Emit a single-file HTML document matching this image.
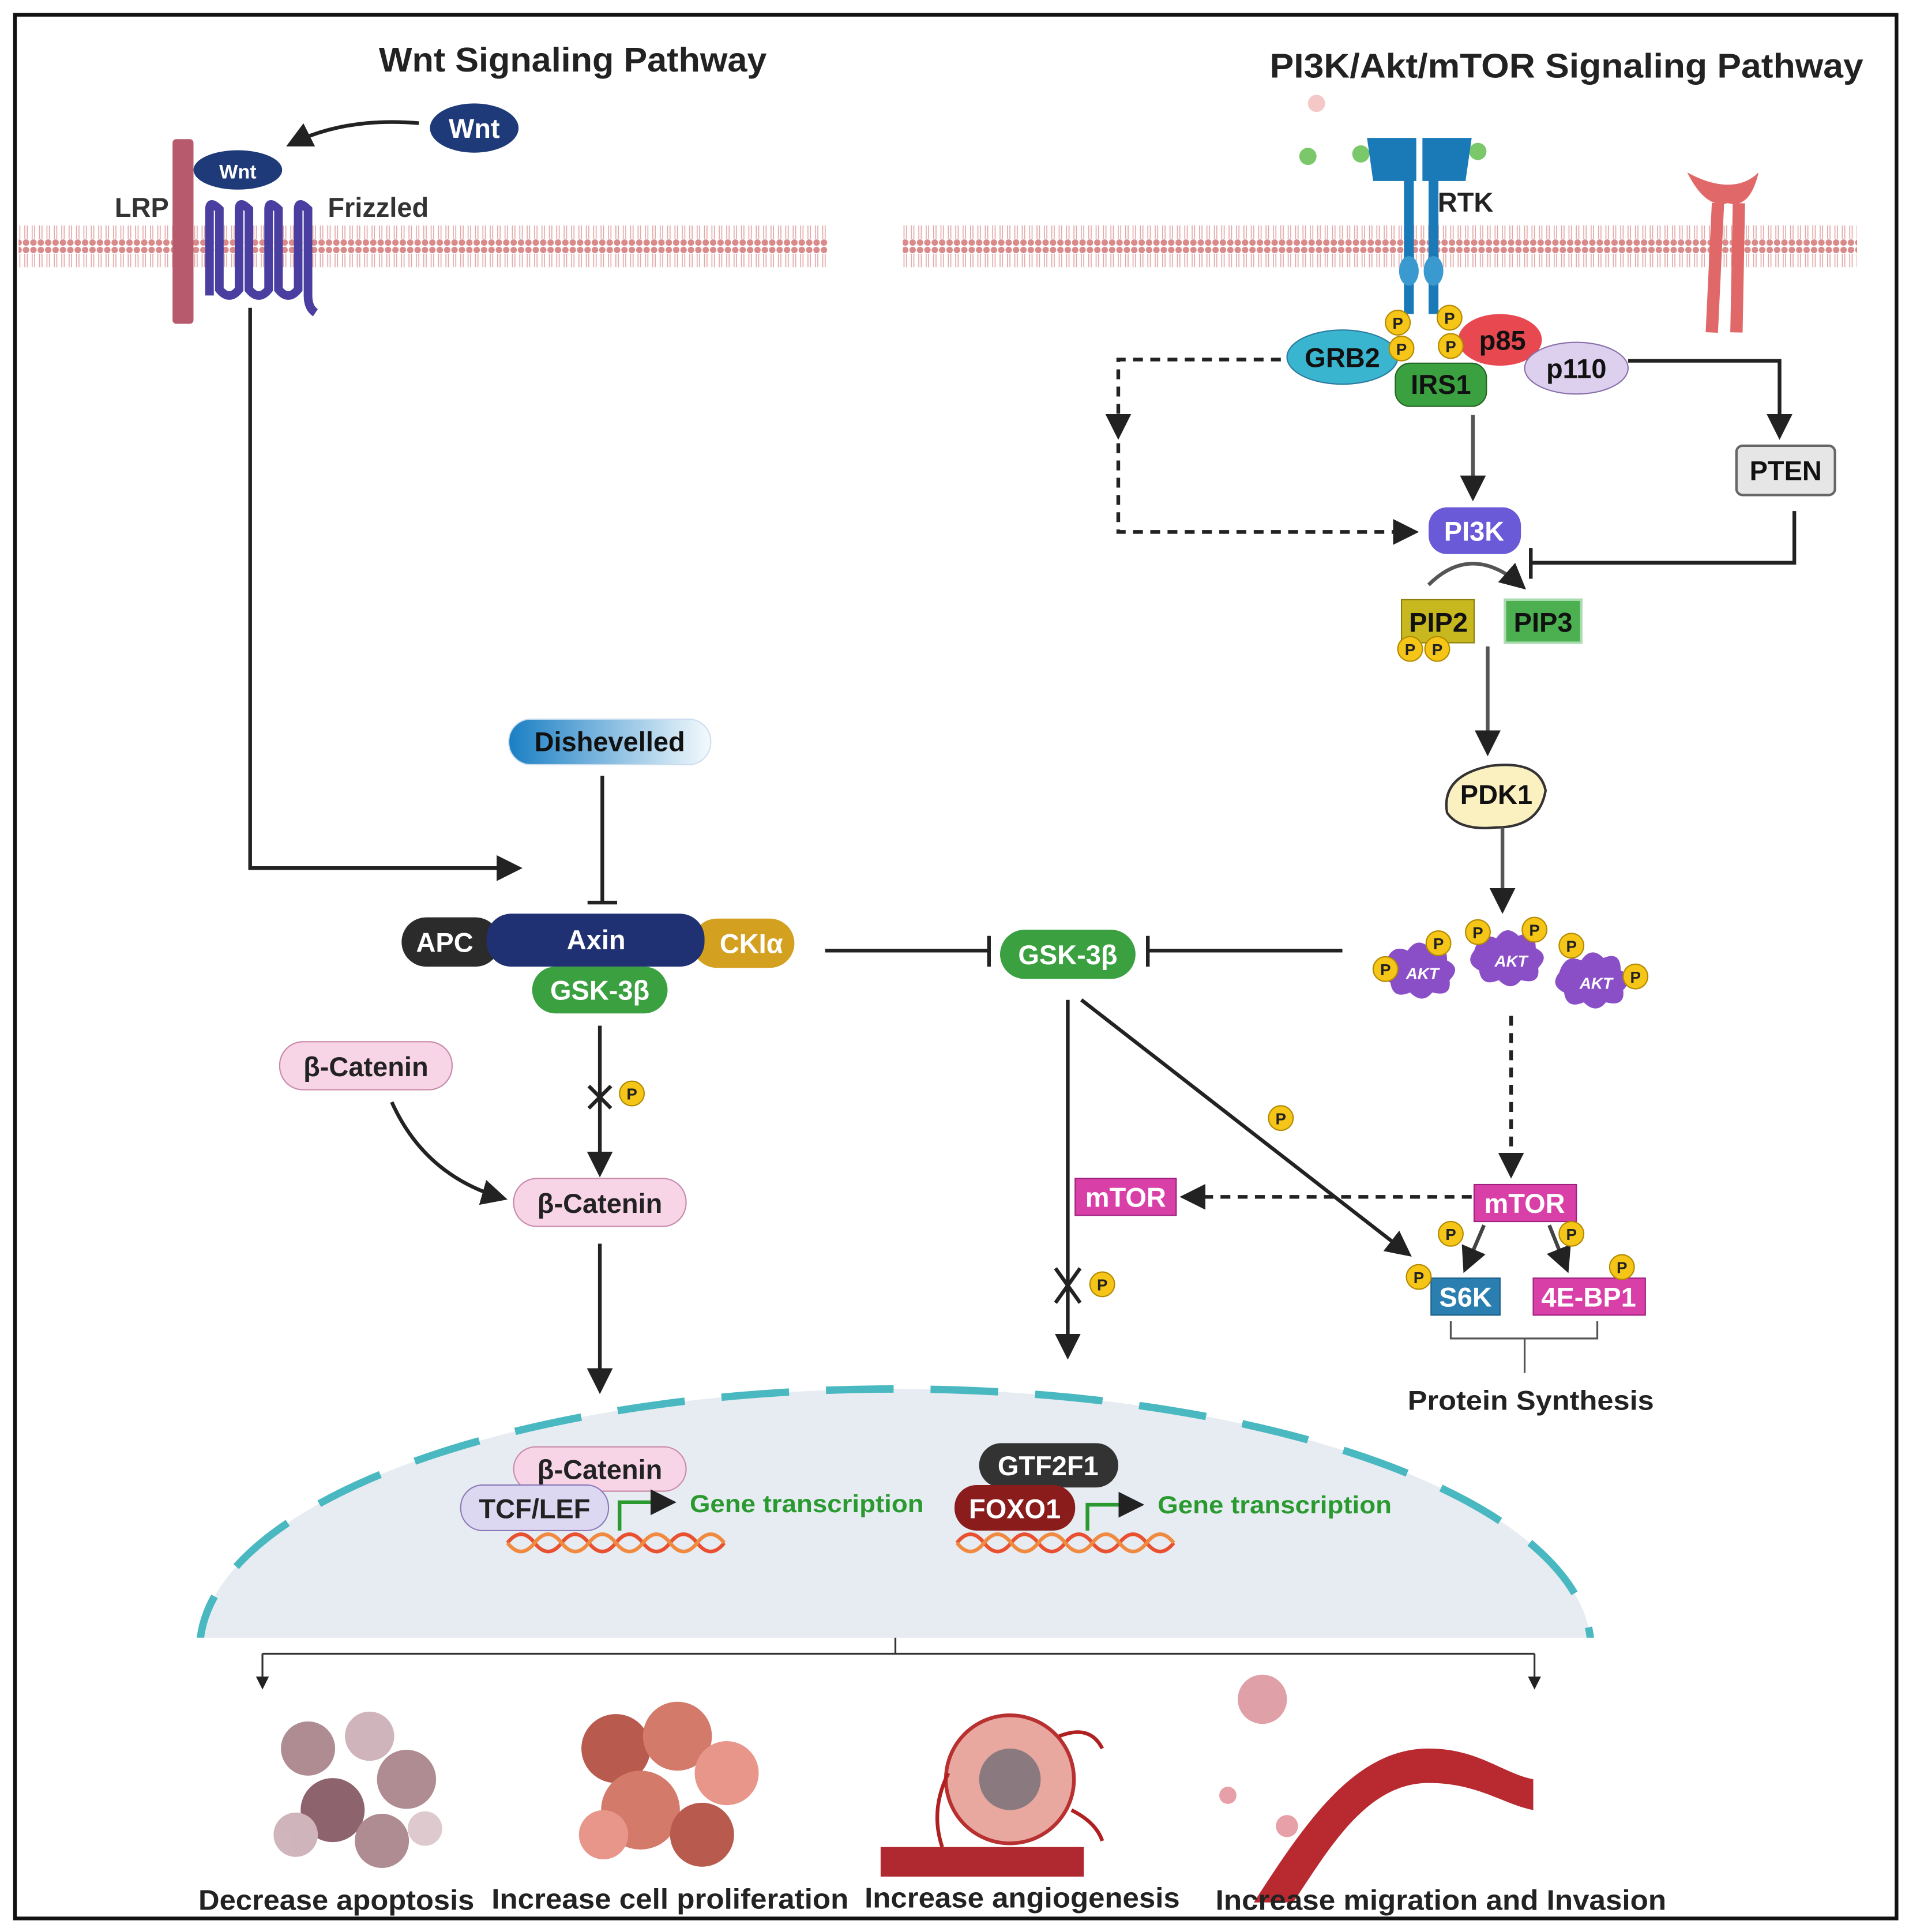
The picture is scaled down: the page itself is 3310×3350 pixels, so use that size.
<!DOCTYPE html>
<html><head><meta charset="utf-8"><style>
html,body{margin:0;padding:0;background:#fff}
svg{display:block}
text{font-family:"Liberation Sans",sans-serif;font-weight:bold}
</style></head><body>
<svg width="3310" height="3350" viewBox="0 0 1550 1569" xmlns="http://www.w3.org/2000/svg">
<defs>
<pattern id="mem" x="0" y="0" width="6" height="40" patternUnits="userSpaceOnUse">
<circle cx="3" cy="3" r="2.6" fill="#d98a8a"/><circle cx="3" cy="37" r="2.6" fill="#d98a8a"/>
<line x1="2" y1="6" x2="2" y2="17" stroke="#e3a9a9" stroke-width="0.8"/><line x1="4" y1="6" x2="4" y2="17" stroke="#e3a9a9" stroke-width="0.8"/>
<line x1="2" y1="23" x2="2" y2="34" stroke="#e3a9a9" stroke-width="0.8"/><line x1="4" y1="23" x2="4" y2="34" stroke="#e3a9a9" stroke-width="0.8"/>
</pattern>
<marker id="ar" viewBox="0 0 10 10" refX="8" refY="5" markerWidth="7" markerHeight="7" orient="auto-start-reverse"><path d="M0,0L10,5L0,10z" fill="#222"/></marker>
<linearGradient id="dsh" x1="0" x2="1"><stop offset="0" stop-color="#1a7fc4"/><stop offset="1" stop-color="#f4fafd"/></linearGradient>
<g id="P"><circle r="10" fill="#f5c518" stroke="#b48a00" stroke-width="1"/><text y="5" text-anchor="middle" font-size="13" fill="#222">P</text></g>
<g id="akt"><path d="M-30,-8 q5,-16 18,-10 q8,-12 18,-2 q14,-6 14,10 q12,6 2,16 q2,14 -14,10 q-8,10 -18,0 q-14,6 -16,-8 q-12,-6 -4,-16z" fill="#8a4fc7"/><text y="5" text-anchor="middle" font-size="13" fill="#fff" font-style="italic">AKT</text></g>
<g id="dna"><path d="M0,0 q11,-14 22,0 t22,0 t22,0 t22,0 t22,0 t22,0 t22,0 t22,0" fill="none" stroke="#e85030" stroke-width="3"/><path d="M0,0 q11,14 22,0 t22,0 t22,0 t22,0 t22,0 t22,0 t22,0 t22,0" fill="none" stroke="#f08a40" stroke-width="3"/></g>
</defs>
<rect x="0" y="0" width="1550" height="1569" fill="#fff"/>
<rect x="12" y="12" width="1528" height="1546" fill="none" stroke="#111" stroke-width="3"/>

<text x="465" y="58" text-anchor="middle" font-size="28" fill="#222" textLength="315" lengthAdjust="spacingAndGlyphs">Wnt Signaling Pathway</text>
<text x="1272" y="63" text-anchor="middle" font-size="28" fill="#222" textLength="482" lengthAdjust="spacingAndGlyphs">PI3K/Akt/mTOR Signaling Pathway</text>

<rect x="15" y="183" width="657" height="40" fill="url(#mem)"/>
<rect x="733" y="180" width="775" height="40" fill="url(#mem)"/>

<rect x="140" y="113" width="17" height="150" rx="3" fill="#b85a6e"/>
<path d="M170,240 V170 q0,-8 8,0 V235 q8,10 16,0 V170 q0,-8 8,0 V235 q8,10 16,0 V170 q0,-8 8,0 V235 q8,10 16,0 V170 q0,-8 8,0 V240 q0,10 6,14" fill="none" stroke="#4a3fa0" stroke-width="7"/>
<ellipse cx="193" cy="138" rx="36" ry="16" fill="#1f3a78"/><text x="193" y="145" text-anchor="middle" font-size="16" fill="#fff">Wnt</text>
<ellipse cx="385" cy="104" rx="36" ry="20" fill="#1f3a78"/><text x="385" y="112" text-anchor="middle" font-size="22" fill="#fff">Wnt</text>
<path d="M340,100 Q280,95 236,117" fill="none" stroke="#222" stroke-width="3" marker-end="url(#ar)"/>
<text x="115" y="176" text-anchor="middle" font-size="22" fill="#333">LRP</text>
<text x="307" y="176" text-anchor="middle" font-size="22" fill="#333">Frizzled</text>
<path d="M203,250 V705 H420" fill="none" stroke="#222" stroke-width="3" marker-end="url(#ar)"/>

<rect x="413" y="584" width="164" height="37" rx="18" fill="url(#dsh)" stroke="#cde" stroke-width="1"/>
<text x="495" y="610" text-anchor="middle" font-size="22" fill="#111">Dishevelled</text>
<path d="M489,630 V733 M477,733 H501" stroke="#222" stroke-width="3"/>
<rect x="326" y="745" width="80" height="40" rx="20" fill="#2b2b2b"/><text x="361" y="773" text-anchor="middle" font-size="22" fill="#fff">APC</text>
<rect x="562" y="746" width="83" height="40" rx="20" fill="#d4a020"/><text x="610" y="774" text-anchor="middle" font-size="22" fill="#fff">CKIα</text>
<rect x="395" y="742" width="177" height="43" rx="20" fill="#1f3172"/><text x="484" y="771" text-anchor="middle" font-size="22" fill="#fff">Axin</text>
<rect x="432" y="785" width="110" height="38" rx="19" fill="#3aa040"/><text x="487" y="812" text-anchor="middle" font-size="22" fill="#fff">GSK-3β</text>
<rect x="227" y="846" width="140" height="39" rx="19" fill="#f7d4e6" stroke="#c98aab"/><text x="297" y="874" text-anchor="middle" font-size="22" fill="#222">β-Catenin</text>
<rect x="417" y="957" width="140" height="39" rx="19" fill="#f7d4e6" stroke="#c98aab"/><text x="487" y="985" text-anchor="middle" font-size="22" fill="#222">β-Catenin</text>
<path d="M487,833 V952" stroke="#222" stroke-width="3" marker-end="url(#ar)"/>
<path d="M478,882 l18,18 M496,882 l-18,18" stroke="#222" stroke-width="3"/>
<use href="#P" x="513" y="888"/>
<path d="M318,895 Q345,955 408,973" fill="none" stroke="#222" stroke-width="3" marker-end="url(#ar)"/>
<path d="M487,1010 V1128" stroke="#222" stroke-width="3" marker-end="url(#ar)"/>

<path d="M670,772 H803 M803,760 V785" stroke="#222" stroke-width="3"/>
<rect x="812" y="755" width="110" height="40" rx="20" fill="#3aa040"/><text x="867" y="783" text-anchor="middle" font-size="22" fill="#fff">GSK-3β</text>
<path d="M1090,772 H932 M932,760 V785" stroke="#222" stroke-width="3"/>
<path d="M867,812 V1100" stroke="#222" stroke-width="3" marker-end="url(#ar)"/>
<path d="M857,1030 l20,28 M877,1030 l-20,28" stroke="#222" stroke-width="3"/>
<use href="#P" x="895" y="1043"/>
<path d="M878,812 L1143,1018" stroke="#222" stroke-width="3" marker-end="url(#ar)"/>
<use href="#P" x="1040" y="908"/>

<use href="#akt" x="1155" y="790"/><use href="#akt" x="1227" y="780"/><use href="#akt" x="1296" y="798"/>
<use href="#P" x="1125" y="787"/><use href="#P" x="1168" y="766"/><use href="#P" x="1200" y="757"/><use href="#P" x="1246" y="755"/><use href="#P" x="1276" y="768"/><use href="#P" x="1328" y="793"/>
<path d="M1227,825 V953" stroke="#222" stroke-width="3" stroke-dasharray="8,6" marker-end="url(#ar)"/>
<rect x="1197" y="962" width="83" height="30" fill="#d840a8" stroke="#a02080"/><text x="1238" y="985" text-anchor="middle" font-size="22" fill="#fff">mTOR</text>
<rect x="873" y="957" width="82" height="30" fill="#d840a8" stroke="#a02080"/><text x="914" y="980" text-anchor="middle" font-size="22" fill="#fff">mTOR</text>
<path d="M1195,972 H962" stroke="#222" stroke-width="3" stroke-dasharray="8,6" marker-end="url(#ar)"/>
<path d="M1205,995 L1190,1030" stroke="#444" stroke-width="3" marker-end="url(#ar)"/>
<path d="M1258,995 L1272,1030" stroke="#444" stroke-width="3" marker-end="url(#ar)"/>
<use href="#P" x="1178" y="1002"/><use href="#P" x="1276" y="1002"/>
<rect x="1162" y="1038" width="56" height="30" fill="#2a7fb0" stroke="#1a5f88"/><text x="1190" y="1061" text-anchor="middle" font-size="22" fill="#fff">S6K</text>
<rect x="1245" y="1038" width="91" height="30" fill="#d840a8" stroke="#a02080"/><text x="1290" y="1061" text-anchor="middle" font-size="22" fill="#fff">4E-BP1</text>
<use href="#P" x="1152" y="1037"/><use href="#P" x="1317" y="1029"/>
<path d="M1178,1073 V1087 H1297 V1073 M1238,1087 V1115" fill="none" stroke="#555" stroke-width="1.5"/>
<text x="1243" y="1145" text-anchor="middle" font-size="22" fill="#222" textLength="200" lengthAdjust="spacingAndGlyphs">Protein Synthesis</text>

<circle cx="1069" cy="84" r="7" fill="#f5c8c8"/>
<circle cx="1062" cy="127" r="7" fill="#7bc86b"/><circle cx="1105" cy="125" r="7" fill="#7bc86b"/><circle cx="1200" cy="123" r="7" fill="#7bc86b"/>
<path d="M1110,112 h40 v35 h-35 z M1155,112 h40 l-5,35 h-35 z" fill="#1a7ab8"/>
<rect x="1140" y="145" width="8" height="110" fill="#1a7ab8"/><rect x="1160" y="145" width="8" height="110" fill="#1a7ab8"/>
<ellipse cx="1144" cy="220" rx="8" ry="12" fill="#3a9ad0"/><ellipse cx="1164" cy="220" rx="8" ry="12" fill="#3a9ad0"/>
<text x="1190" y="172" text-anchor="middle" font-size="22" fill="#222">RTK</text>
<path d="M1390,270 L1395,165 M1410,270 L1412,165" stroke="#e06868" stroke-width="10"/>
<path d="M1370,140 q15,30 33,25 q18,5 25,-25 q-10,10 -25,10 q-15,0 -33,-10z" fill="#e06868"/>
<ellipse cx="1090" cy="290" rx="45" ry="22" fill="#3ab5d0" stroke="#2a7aa0"/><text x="1090" y="298" text-anchor="middle" font-size="22" fill="#111">GRB2</text>
<ellipse cx="1218" cy="276" rx="34" ry="21" fill="#e84850"/><text x="1220" y="284" text-anchor="middle" font-size="22" fill="#111">p85</text>
<ellipse cx="1280" cy="299" rx="42" ry="21" fill="#ddd0ee" stroke="#8870a8"/><text x="1280" y="307" text-anchor="middle" font-size="22" fill="#111">p110</text>
<rect x="1133" y="295" width="74" height="35" rx="12" fill="#3aa040" stroke="#226622"/><text x="1170" y="320" text-anchor="middle" font-size="22" fill="#111">IRS1</text>
<use href="#P" x="1135" y="262"/><use href="#P" x="1177" y="258"/><use href="#P" x="1138" y="283"/><use href="#P" x="1178" y="281"/>
<path d="M1040,292 H908 V353" fill="none" stroke="#222" stroke-width="3" stroke-dasharray="8,6" marker-end="url(#ar)"/>
<path d="M908,360 V432 H1148" fill="none" stroke="#222" stroke-width="3" stroke-dasharray="8,6" marker-end="url(#ar)"/>
<path d="M1196,337 V403" stroke="#555" stroke-width="3" marker-end="url(#ar)"/>
<path d="M1322,293 H1445 V353" fill="none" stroke="#222" stroke-width="3" marker-end="url(#ar)"/>
<rect x="1410" y="362" width="80" height="40" rx="5" fill="#e6e6e6" stroke="#666" stroke-width="2"/><text x="1450" y="390" text-anchor="middle" font-size="22" fill="#111">PTEN</text>
<path d="M1457,415 V457 H1243 M1243,445 V470" fill="none" stroke="#222" stroke-width="3"/>
<rect x="1160" y="412" width="75" height="38" rx="15" fill="#6a5ad8"/><text x="1197" y="439" text-anchor="middle" font-size="22" fill="#fff">PI3K</text>
<path d="M1160,475 Q1195,440 1236,476" fill="none" stroke="#555" stroke-width="3" marker-end="url(#ar)"/>
<rect x="1138" y="487" width="59" height="35" fill="#c8b820" stroke="#8a8010"/><text x="1168" y="513" text-anchor="middle" font-size="22" fill="#111">PIP2</text>
<rect x="1222" y="487" width="62" height="35" fill="#4cb050" stroke="#aadcb0" stroke-width="2"/><text x="1253" y="513" text-anchor="middle" font-size="22" fill="#111">PIP3</text>
<use href="#P" x="1145" y="527"/><use href="#P" x="1167" y="527"/>
<path d="M1208,525 V610" stroke="#555" stroke-width="3" marker-end="url(#ar)"/>
<path d="M1175,660 q-5,-30 35,-38 q40,-5 45,20 q-5,30 -40,30 q-30,3 -40,-12z" fill="#faf0c0" stroke="#333" stroke-width="2"/>
<text x="1215" y="653" text-anchor="middle" font-size="22" fill="#111">PDK1</text>
<path d="M1220,672 V738" stroke="#555" stroke-width="3" marker-end="url(#ar)"/>

<clipPath id="nc"><rect x="0" y="0" width="1550" height="1330"/></clipPath>
<ellipse cx="727" cy="1340" rx="565" ry="212" fill="#e6ecf1" stroke="#4ab8c0" stroke-width="6" stroke-dasharray="55,30" clip-path="url(#nc)"/>
<rect x="417" y="1175" width="140" height="36" rx="18" fill="#f7d4e6" stroke="#c98aab"/><text x="487" y="1201" text-anchor="middle" font-size="22" fill="#222">β-Catenin</text>
<rect x="374" y="1206" width="120" height="37" rx="18" fill="#ddd8f2" stroke="#8878b8"/><text x="434" y="1233" text-anchor="middle" font-size="22" fill="#222">TCF/LEF</text>
<path d="M503,1243 V1220 H545" fill="none" stroke="#2a9a30" stroke-width="3" marker-end="url(#ar)"/>
<text x="560" y="1228" font-size="20" fill="#2a9a30" textLength="190" lengthAdjust="spacingAndGlyphs">Gene transcription</text>
<use href="#dna" x="412" y="1253"/>
<rect x="795" y="1172" width="113" height="36" rx="18" fill="#333"/><text x="851" y="1198" text-anchor="middle" font-size="22" fill="#fff">GTF2F1</text>
<rect x="775" y="1206" width="98" height="37" rx="18" fill="#8b1c1c"/><text x="824" y="1233" text-anchor="middle" font-size="22" fill="#fff">FOXO1</text>
<path d="M883,1243 V1222 H925" fill="none" stroke="#2a9a30" stroke-width="3" marker-end="url(#ar)"/>
<text x="940" y="1229" font-size="20" fill="#2a9a30" textLength="190" lengthAdjust="spacingAndGlyphs">Gene transcription</text>
<use href="#dna" x="777" y="1253"/>

<path d="M727,1330 V1343 M213,1343 H1246" fill="none" stroke="#333" stroke-width="1.5"/>
<path d="M213,1343 V1370" stroke="#333" stroke-width="1.5" marker-end="url(#ar)"/>
<path d="M1246,1343 V1370" stroke="#333" stroke-width="1.5" marker-end="url(#ar)"/>
<g fill="#a07880" opacity="0.85">
<circle cx="250" cy="1420" r="22"/><circle cx="300" cy="1410" r="20" fill="#c8a8b0"/><circle cx="330" cy="1445" r="24"/><circle cx="270" cy="1470" r="26" fill="#7a4a55"/><circle cx="240" cy="1490" r="18" fill="#c8a8b0"/><circle cx="310" cy="1495" r="22"/><circle cx="345" cy="1485" r="14" fill="#d8c0c6"/>
</g>
<g fill="#d47a6a">
<circle cx="500" cy="1420" r="28" fill="#b85a4e"/><circle cx="550" cy="1410" r="28"/><circle cx="590" cy="1440" r="26" fill="#e8958a"/><circle cx="520" cy="1470" r="32"/><circle cx="570" cy="1490" r="26" fill="#b85a4e"/><circle cx="490" cy="1490" r="20" fill="#e8958a"/>
</g>
<rect x="715" y="1500" width="165" height="24" fill="#b02830"/>
<circle cx="820" cy="1445" r="52" fill="#e8a8a0" stroke="#b83030" stroke-width="3"/><circle cx="820" cy="1445" r="25" fill="#8a7a80"/>
<path d="M770,1440 q-15,30 -5,60 M860,1410 q25,-10 35,10 M870,1470 q20,10 25,25" fill="none" stroke="#b02020" stroke-width="3"/>
<circle cx="1025" cy="1380" r="20" fill="#e0a0a8"/>
<circle cx="997" cy="1458" r="7" fill="#e8a0a8"/><circle cx="1045" cy="1483" r="9" fill="#e8a0a8"/>
<path d="M1018,1545 C1060,1480 1100,1420 1160,1420 C1200,1420 1220,1440 1245,1445 L1245,1470 C1220,1465 1200,1448 1160,1448 C1110,1448 1080,1500 1050,1545z" fill="#b82a30"/>
<text x="273" y="1551" text-anchor="middle" font-size="23" fill="#222" textLength="224" lengthAdjust="spacingAndGlyphs">Decrease apoptosis</text>
<text x="544" y="1550" text-anchor="middle" font-size="23" fill="#222" textLength="290" lengthAdjust="spacingAndGlyphs">Increase cell proliferation</text>
<text x="830" y="1549" text-anchor="middle" font-size="23" fill="#222" textLength="256" lengthAdjust="spacingAndGlyphs">Increase angiogenesis</text>
<text x="1170" y="1551" text-anchor="middle" font-size="23" fill="#222" textLength="366" lengthAdjust="spacingAndGlyphs">Increase migration and Invasion</text>
</svg>
</body></html>
